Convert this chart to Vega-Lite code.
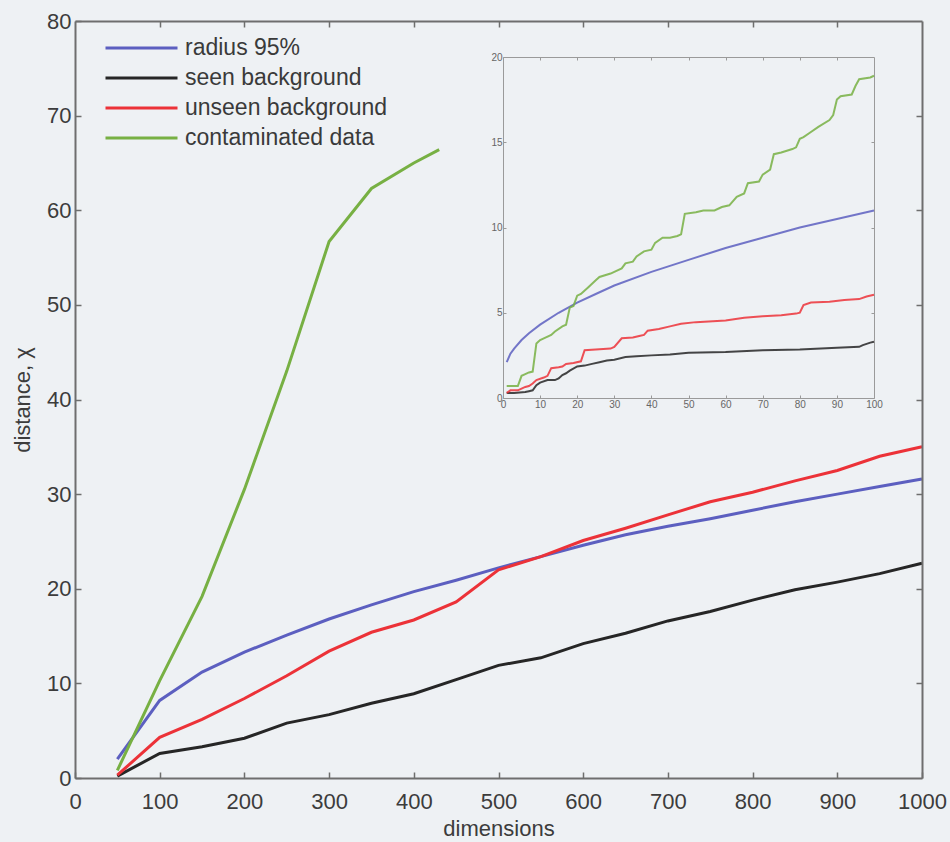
{
  "$schema": "https://vega.github.io/schema/vega-lite/v6.json",
  "width": 847,
  "height": 757,
  "autosize": "none",
  "padding": {"left": 75, "top": 21, "right": 28, "bottom": 64},
  "background": "#eef1f4",
  "config": {
    "font": "Liberation Sans",
    "view": {"stroke": null},
    "axis": {"grid": false, "labelFlush": false, "labelOverlap": false, "titleFontWeight": "normal"}
  },
  "datasets": {
    "main": [
      {"dim": 50, "dist": 2.0, "series": "radius 95%"},
      {"dim": 100, "dist": 8.2, "series": "radius 95%"},
      {"dim": 150, "dist": 11.2, "series": "radius 95%"},
      {"dim": 200, "dist": 13.3, "series": "radius 95%"},
      {"dim": 250, "dist": 15.1, "series": "radius 95%"},
      {"dim": 300, "dist": 16.8, "series": "radius 95%"},
      {"dim": 350, "dist": 18.3, "series": "radius 95%"},
      {"dim": 400, "dist": 19.7, "series": "radius 95%"},
      {"dim": 450, "dist": 20.9, "series": "radius 95%"},
      {"dim": 500, "dist": 22.2, "series": "radius 95%"},
      {"dim": 550, "dist": 23.4, "series": "radius 95%"},
      {"dim": 600, "dist": 24.6, "series": "radius 95%"},
      {"dim": 650, "dist": 25.7, "series": "radius 95%"},
      {"dim": 700, "dist": 26.6, "series": "radius 95%"},
      {"dim": 750, "dist": 27.4, "series": "radius 95%"},
      {"dim": 800, "dist": 28.3, "series": "radius 95%"},
      {"dim": 850, "dist": 29.2, "series": "radius 95%"},
      {"dim": 900, "dist": 30.0, "series": "radius 95%"},
      {"dim": 950, "dist": 30.8, "series": "radius 95%"},
      {"dim": 1000, "dist": 31.6, "series": "radius 95%"},

      {"dim": 50, "dist": 0.2, "series": "seen background"},
      {"dim": 100, "dist": 2.6, "series": "seen background"},
      {"dim": 150, "dist": 3.3, "series": "seen background"},
      {"dim": 200, "dist": 4.2, "series": "seen background"},
      {"dim": 250, "dist": 5.8, "series": "seen background"},
      {"dim": 300, "dist": 6.7, "series": "seen background"},
      {"dim": 350, "dist": 7.9, "series": "seen background"},
      {"dim": 400, "dist": 8.9, "series": "seen background"},
      {"dim": 450, "dist": 10.4, "series": "seen background"},
      {"dim": 500, "dist": 11.9, "series": "seen background"},
      {"dim": 550, "dist": 12.7, "series": "seen background"},
      {"dim": 600, "dist": 14.2, "series": "seen background"},
      {"dim": 650, "dist": 15.3, "series": "seen background"},
      {"dim": 700, "dist": 16.6, "series": "seen background"},
      {"dim": 750, "dist": 17.6, "series": "seen background"},
      {"dim": 800, "dist": 18.8, "series": "seen background"},
      {"dim": 850, "dist": 19.9, "series": "seen background"},
      {"dim": 900, "dist": 20.7, "series": "seen background"},
      {"dim": 950, "dist": 21.6, "series": "seen background"},
      {"dim": 1000, "dist": 22.7, "series": "seen background"},

      {"dim": 50, "dist": 0.3, "series": "unseen background"},
      {"dim": 100, "dist": 4.3, "series": "unseen background"},
      {"dim": 150, "dist": 6.2, "series": "unseen background"},
      {"dim": 200, "dist": 8.4, "series": "unseen background"},
      {"dim": 250, "dist": 10.8, "series": "unseen background"},
      {"dim": 300, "dist": 13.4, "series": "unseen background"},
      {"dim": 350, "dist": 15.4, "series": "unseen background"},
      {"dim": 400, "dist": 16.7, "series": "unseen background"},
      {"dim": 450, "dist": 18.6, "series": "unseen background"},
      {"dim": 500, "dist": 22.0, "series": "unseen background"},
      {"dim": 550, "dist": 23.4, "series": "unseen background"},
      {"dim": 600, "dist": 25.1, "series": "unseen background"},
      {"dim": 650, "dist": 26.4, "series": "unseen background"},
      {"dim": 700, "dist": 27.8, "series": "unseen background"},
      {"dim": 750, "dist": 29.2, "series": "unseen background"},
      {"dim": 800, "dist": 30.2, "series": "unseen background"},
      {"dim": 850, "dist": 31.4, "series": "unseen background"},
      {"dim": 900, "dist": 32.5, "series": "unseen background"},
      {"dim": 950, "dist": 34.0, "series": "unseen background"},
      {"dim": 1000, "dist": 35.0, "series": "unseen background"},

      {"dim": 50, "dist": 0.8, "series": "contaminated data"},
      {"dim": 100, "dist": 10.3, "series": "contaminated data"},
      {"dim": 150, "dist": 19.2, "series": "contaminated data"},
      {"dim": 200, "dist": 30.5, "series": "contaminated data"},
      {"dim": 250, "dist": 43.0, "series": "contaminated data"},
      {"dim": 300, "dist": 56.7, "series": "contaminated data"},
      {"dim": 350, "dist": 62.3, "series": "contaminated data"},
      {"dim": 400, "dist": 65.0, "series": "contaminated data"},
      {"dim": 430, "dist": 66.4, "series": "contaminated data"}
    ],
    "inset": [
      {"dim": 1, "dist": 2.1, "series": "radius 95%"},
      {"dim": 2, "dist": 2.6, "series": "radius 95%"},
      {"dim": 3, "dist": 2.9, "series": "radius 95%"},
      {"dim": 5, "dist": 3.4, "series": "radius 95%"},
      {"dim": 7, "dist": 3.8, "series": "radius 95%"},
      {"dim": 10, "dist": 4.3, "series": "radius 95%"},
      {"dim": 15, "dist": 5.0, "series": "radius 95%"},
      {"dim": 20, "dist": 5.6, "series": "radius 95%"},
      {"dim": 25, "dist": 6.1, "series": "radius 95%"},
      {"dim": 30, "dist": 6.6, "series": "radius 95%"},
      {"dim": 40, "dist": 7.4, "series": "radius 95%"},
      {"dim": 50, "dist": 8.1, "series": "radius 95%"},
      {"dim": 60, "dist": 8.8, "series": "radius 95%"},
      {"dim": 70, "dist": 9.4, "series": "radius 95%"},
      {"dim": 80, "dist": 10.0, "series": "radius 95%"},
      {"dim": 90, "dist": 10.5, "series": "radius 95%"},
      {"dim": 100, "dist": 11.0, "series": "radius 95%"},

      {"dim": 1, "dist": 0.3, "series": "seen background"},
      {"dim": 3, "dist": 0.3, "series": "seen background"},
      {"dim": 6, "dist": 0.35, "series": "seen background"},
      {"dim": 7, "dist": 0.4, "series": "seen background"},
      {"dim": 8, "dist": 0.45, "series": "seen background"},
      {"dim": 9, "dist": 0.75, "series": "seen background"},
      {"dim": 10, "dist": 0.9, "series": "seen background"},
      {"dim": 12, "dist": 1.05, "series": "seen background"},
      {"dim": 14, "dist": 1.05, "series": "seen background"},
      {"dim": 15, "dist": 1.15, "series": "seen background"},
      {"dim": 16, "dist": 1.35, "series": "seen background"},
      {"dim": 17, "dist": 1.45, "series": "seen background"},
      {"dim": 18, "dist": 1.6, "series": "seen background"},
      {"dim": 20, "dist": 1.85, "series": "seen background"},
      {"dim": 22, "dist": 1.9, "series": "seen background"},
      {"dim": 24, "dist": 2.0, "series": "seen background"},
      {"dim": 26, "dist": 2.1, "series": "seen background"},
      {"dim": 28, "dist": 2.2, "series": "seen background"},
      {"dim": 30, "dist": 2.25, "series": "seen background"},
      {"dim": 33, "dist": 2.4, "series": "seen background"},
      {"dim": 36, "dist": 2.45, "series": "seen background"},
      {"dim": 40, "dist": 2.5, "series": "seen background"},
      {"dim": 45, "dist": 2.55, "series": "seen background"},
      {"dim": 50, "dist": 2.65, "series": "seen background"},
      {"dim": 60, "dist": 2.7, "series": "seen background"},
      {"dim": 70, "dist": 2.8, "series": "seen background"},
      {"dim": 80, "dist": 2.85, "series": "seen background"},
      {"dim": 90, "dist": 2.95, "series": "seen background"},
      {"dim": 96, "dist": 3.0, "series": "seen background"},
      {"dim": 97, "dist": 3.1, "series": "seen background"},
      {"dim": 99, "dist": 3.25, "series": "seen background"},
      {"dim": 100, "dist": 3.3, "series": "seen background"},

      {"dim": 1, "dist": 0.3, "series": "unseen background"},
      {"dim": 2, "dist": 0.45, "series": "unseen background"},
      {"dim": 4, "dist": 0.45, "series": "unseen background"},
      {"dim": 5, "dist": 0.55, "series": "unseen background"},
      {"dim": 6, "dist": 0.65, "series": "unseen background"},
      {"dim": 7, "dist": 0.7, "series": "unseen background"},
      {"dim": 8, "dist": 0.85, "series": "unseen background"},
      {"dim": 9, "dist": 1.05, "series": "unseen background"},
      {"dim": 11, "dist": 1.2, "series": "unseen background"},
      {"dim": 12, "dist": 1.3, "series": "unseen background"},
      {"dim": 13, "dist": 1.75, "series": "unseen background"},
      {"dim": 15, "dist": 1.8, "series": "unseen background"},
      {"dim": 16, "dist": 1.85, "series": "unseen background"},
      {"dim": 17, "dist": 2.0, "series": "unseen background"},
      {"dim": 19, "dist": 2.05, "series": "unseen background"},
      {"dim": 21, "dist": 2.15, "series": "unseen background"},
      {"dim": 22, "dist": 2.8, "series": "unseen background"},
      {"dim": 25, "dist": 2.85, "series": "unseen background"},
      {"dim": 29, "dist": 2.9, "series": "unseen background"},
      {"dim": 30, "dist": 3.0, "series": "unseen background"},
      {"dim": 32, "dist": 3.5, "series": "unseen background"},
      {"dim": 35, "dist": 3.55, "series": "unseen background"},
      {"dim": 37, "dist": 3.65, "series": "unseen background"},
      {"dim": 38, "dist": 3.7, "series": "unseen background"},
      {"dim": 39, "dist": 3.95, "series": "unseen background"},
      {"dim": 42, "dist": 4.05, "series": "unseen background"},
      {"dim": 45, "dist": 4.2, "series": "unseen background"},
      {"dim": 48, "dist": 4.35, "series": "unseen background"},
      {"dim": 52, "dist": 4.45, "series": "unseen background"},
      {"dim": 60, "dist": 4.55, "series": "unseen background"},
      {"dim": 65, "dist": 4.7, "series": "unseen background"},
      {"dim": 70, "dist": 4.8, "series": "unseen background"},
      {"dim": 75, "dist": 4.85, "series": "unseen background"},
      {"dim": 79, "dist": 4.95, "series": "unseen background"},
      {"dim": 80, "dist": 5.0, "series": "unseen background"},
      {"dim": 81, "dist": 5.45, "series": "unseen background"},
      {"dim": 83, "dist": 5.6, "series": "unseen background"},
      {"dim": 88, "dist": 5.65, "series": "unseen background"},
      {"dim": 92, "dist": 5.75, "series": "unseen background"},
      {"dim": 96, "dist": 5.8, "series": "unseen background"},
      {"dim": 98, "dist": 5.95, "series": "unseen background"},
      {"dim": 100, "dist": 6.05, "series": "unseen background"},

      {"dim": 1, "dist": 0.7, "series": "contaminated data"},
      {"dim": 4, "dist": 0.7, "series": "contaminated data"},
      {"dim": 5, "dist": 1.3, "series": "contaminated data"},
      {"dim": 6, "dist": 1.4, "series": "contaminated data"},
      {"dim": 7, "dist": 1.5, "series": "contaminated data"},
      {"dim": 8, "dist": 1.55, "series": "contaminated data"},
      {"dim": 9, "dist": 3.2, "series": "contaminated data"},
      {"dim": 10, "dist": 3.4, "series": "contaminated data"},
      {"dim": 11, "dist": 3.5, "series": "contaminated data"},
      {"dim": 13, "dist": 3.7, "series": "contaminated data"},
      {"dim": 14, "dist": 3.9, "series": "contaminated data"},
      {"dim": 16, "dist": 4.2, "series": "contaminated data"},
      {"dim": 17, "dist": 4.3, "series": "contaminated data"},
      {"dim": 18, "dist": 5.3, "series": "contaminated data"},
      {"dim": 19, "dist": 5.4, "series": "contaminated data"},
      {"dim": 20, "dist": 6.0, "series": "contaminated data"},
      {"dim": 21, "dist": 6.1, "series": "contaminated data"},
      {"dim": 23, "dist": 6.5, "series": "contaminated data"},
      {"dim": 25, "dist": 6.9, "series": "contaminated data"},
      {"dim": 26, "dist": 7.1, "series": "contaminated data"},
      {"dim": 29, "dist": 7.3, "series": "contaminated data"},
      {"dim": 30, "dist": 7.4, "series": "contaminated data"},
      {"dim": 32, "dist": 7.6, "series": "contaminated data"},
      {"dim": 33, "dist": 7.9, "series": "contaminated data"},
      {"dim": 35, "dist": 8.0, "series": "contaminated data"},
      {"dim": 36, "dist": 8.3, "series": "contaminated data"},
      {"dim": 38, "dist": 8.6, "series": "contaminated data"},
      {"dim": 40, "dist": 8.7, "series": "contaminated data"},
      {"dim": 41, "dist": 9.1, "series": "contaminated data"},
      {"dim": 43, "dist": 9.4, "series": "contaminated data"},
      {"dim": 45, "dist": 9.4, "series": "contaminated data"},
      {"dim": 47, "dist": 9.5, "series": "contaminated data"},
      {"dim": 48, "dist": 9.6, "series": "contaminated data"},
      {"dim": 49, "dist": 10.8, "series": "contaminated data"},
      {"dim": 52, "dist": 10.9, "series": "contaminated data"},
      {"dim": 54, "dist": 11.0, "series": "contaminated data"},
      {"dim": 57, "dist": 11.0, "series": "contaminated data"},
      {"dim": 59, "dist": 11.2, "series": "contaminated data"},
      {"dim": 61, "dist": 11.3, "series": "contaminated data"},
      {"dim": 63, "dist": 11.8, "series": "contaminated data"},
      {"dim": 65, "dist": 12.0, "series": "contaminated data"},
      {"dim": 66, "dist": 12.6, "series": "contaminated data"},
      {"dim": 69, "dist": 12.7, "series": "contaminated data"},
      {"dim": 70, "dist": 13.1, "series": "contaminated data"},
      {"dim": 72, "dist": 13.4, "series": "contaminated data"},
      {"dim": 73, "dist": 14.3, "series": "contaminated data"},
      {"dim": 75, "dist": 14.4, "series": "contaminated data"},
      {"dim": 78, "dist": 14.6, "series": "contaminated data"},
      {"dim": 79, "dist": 14.7, "series": "contaminated data"},
      {"dim": 80, "dist": 15.2, "series": "contaminated data"},
      {"dim": 81, "dist": 15.3, "series": "contaminated data"},
      {"dim": 83, "dist": 15.6, "series": "contaminated data"},
      {"dim": 85, "dist": 15.9, "series": "contaminated data"},
      {"dim": 88, "dist": 16.3, "series": "contaminated data"},
      {"dim": 89, "dist": 16.6, "series": "contaminated data"},
      {"dim": 90, "dist": 17.5, "series": "contaminated data"},
      {"dim": 91, "dist": 17.7, "series": "contaminated data"},
      {"dim": 94, "dist": 17.8, "series": "contaminated data"},
      {"dim": 95, "dist": 18.3, "series": "contaminated data"},
      {"dim": 96, "dist": 18.7, "series": "contaminated data"},
      {"dim": 99, "dist": 18.8, "series": "contaminated data"},
      {"dim": 100, "dist": 18.9, "series": "contaminated data"}
    ]
  },
  "resolve": {
    "scale": {"x": "independent", "y": "independent"},
    "axis": {"x": "independent", "y": "independent"}
  },
  "layer": [
    {
      "data": {"name": "main"},
      "resolve": {"axis": {"x": "independent", "y": "independent"}},
      "layer": [
        {
          "mark": {"type": "line", "strokeWidth": 3},
          "encoding": {
            "x": {
              "field": "dim", "type": "quantitative",
              "scale": {"domain": [0, 1000], "nice": false, "zero": false},
              "axis": {
                "orient": "bottom", "zindex": 1, "format": "d",
                "values": [0, 100, 200, 300, 400, 500, 600, 700, 800, 900, 1000],
                "title": "dimensions", "titleFontSize": 22, "titleColor": "#3c3c3c", "titlePadding": 6,
                "labelFontSize": 22, "labelColor": "#3c3c3c", "labelPadding": 19,
                "tickSize": -6, "tickColor": "#6e6e6e", "tickWidth": 1.5,
                "domainColor": "#6e6e6e", "domainWidth": 2
              }
            },
            "y": {
              "field": "dist", "type": "quantitative",
              "scale": {"domain": [0, 80], "nice": false, "zero": false},
              "axis": {
                "orient": "left", "zindex": 1,
                "values": [0, 10, 20, 30, 40, 50, 60, 70, 80],
                "title": "distance, χ", "titleFontSize": 22, "titleColor": "#3c3c3c", "titlePadding": 12,
                "labelFontSize": 22, "labelColor": "#3c3c3c", "labelPadding": 10,
                "tickSize": -6, "tickColor": "#6e6e6e", "tickWidth": 1.5,
                "domainColor": "#6e6e6e", "domainWidth": 2
              }
            },
            "color": {
              "field": "series", "type": "nominal",
              "scale": {
                "domain": ["radius 95%", "seen background", "unseen background", "contaminated data"],
                "range": ["#5c5fc0", "#262626", "#ec3238", "#77b043"]
              },
              "legend": {
                "title": null, "orient": "none", "legendX": 29, "legendY": 15,
                "symbolType": "stroke", "symbolSize": 5184, "symbolStrokeWidth": 3,
                "clipHeight": 24, "rowPadding": 6, "padding": 0,
                "labelFontSize": 23, "labelColor": "#3a3a3a", "labelOffset": 6, "labelLimit": 400
              }
            }
          }
        },
        {
          "mark": {"type": "line", "strokeOpacity": 0},
          "encoding": {
            "x": {
              "field": "dim", "type": "quantitative",
              "axis": {
                "orient": "top", "zindex": 1, "title": null, "labels": false,
                "values": [100, 200, 300, 400, 500, 600, 700, 800, 900],
                "tickSize": -6, "tickColor": "#6e6e6e", "tickWidth": 1.5,
                "domainColor": "#6e6e6e", "domainWidth": 2
              }
            },
            "y": {
              "field": "dist", "type": "quantitative",
              "axis": {
                "orient": "right", "zindex": 1, "title": null, "labels": false,
                "values": [10, 20, 30, 40, 50, 60, 70],
                "tickSize": -6, "tickColor": "#6e6e6e", "tickWidth": 1.5,
                "domainColor": "#6e6e6e", "domainWidth": 2
              }
            },
            "detail": {"field": "series"}
          }
        }
      ]
    },
    {
      "data": {"name": "inset"},
      "resolve": {"axis": {"x": "independent", "y": "independent"}},
      "layer": [
        {
          "mark": {"type": "line", "strokeWidth": 2, "strokeOpacity": 0.85},
          "encoding": {
            "x": {
              "field": "dim", "type": "quantitative",
              "scale": {"domain": [0, 100], "nice": false, "zero": false, "range": [428, 799]},
              "axis": {
                "orient": "bottom", "offset": -380, "title": null,
                "values": [0, 10, 20, 30, 40, 50, 60, 70, 80, 90, 100],
                "labelFontSize": 10, "labelColor": "#666666", "labelPadding": 4,
                "tickSize": -3, "tickColor": "#9a9a9a", "domainColor": "#9a9a9a", "domainWidth": 1
              }
            },
            "y": {
              "field": "dist", "type": "quantitative",
              "scale": {"domain": [0, 20], "nice": false, "zero": false, "range": [377, 36]},
              "axis": {
                "orient": "left", "offset": -428, "title": null,
                "values": [0, 5, 10, 15, 20],
                "labelFontSize": 10, "labelColor": "#666666", "labelPadding": 4,
                "tickSize": -3, "tickColor": "#9a9a9a", "domainColor": "#9a9a9a", "domainWidth": 1
              }
            },
            "color": {"field": "series", "type": "nominal"}
          }
        },
        {
          "mark": {"type": "line", "strokeOpacity": 0},
          "encoding": {
            "x": {
              "field": "dim", "type": "quantitative",
              "axis": {
                "orient": "top", "offset": -36, "title": null, "labels": false,
                "values": [10, 20, 30, 40, 50, 60, 70, 80, 90],
                "tickSize": -3, "tickColor": "#9a9a9a", "domainColor": "#9a9a9a", "domainWidth": 1
              }
            },
            "y": {
              "field": "dist", "type": "quantitative",
              "axis": {
                "orient": "right", "offset": -48, "title": null, "labels": false,
                "values": [5, 10, 15],
                "tickSize": -3, "tickColor": "#9a9a9a", "domainColor": "#9a9a9a", "domainWidth": 1
              }
            },
            "detail": {"field": "series"}
          }
        }
      ]
    }
  ]
}
